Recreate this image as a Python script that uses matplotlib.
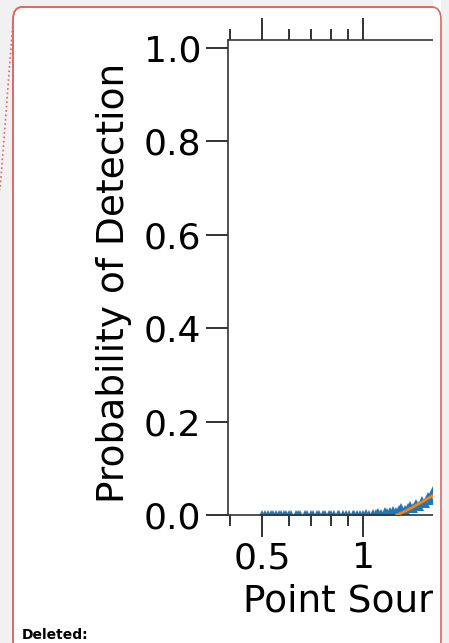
"""
Probability of detection vs point source flux, shown as the clipped
preview that sits inside a tracked-changes comment box.
"""

import matplotlib
matplotlib.use("Agg")
import matplotlib.pyplot as plt
from matplotlib.patches import FancyBboxPatch, Rectangle
from matplotlib.lines import Line2D
from matplotlib.ticker import FixedLocator, FixedFormatter

# ── Data ──────────────────────────────────────────────────────────────────────

# measured detection fraction (blue markers)
flux = [0.50, 0.51, 0.52, 0.53, 0.54, 0.55, 0.56, 0.57, 0.58, 0.59,
        0.60, 0.61, 0.63, 0.64, 0.65, 0.67, 0.68, 0.70, 0.71, 0.73,
        0.74, 0.76, 0.77, 0.79, 0.80, 0.82, 0.84, 0.85, 0.87, 0.89,
        0.91, 0.93, 0.94, 0.96, 0.98, 1.00, 1.02, 1.04, 1.07, 1.09,
        1.11, 1.13, 1.16, 1.18, 1.20, 1.23, 1.25, 1.28, 1.30, 1.33,
        1.36, 1.38, 1.41, 1.44, 1.47, 1.50, 1.53, 1.56, 1.59, 1.62, 1.66]
p_det = [0.000, 0.000, 0.000, 0.000, 0.000, 0.000, 0.000, 0.000, 0.000, 0.000,
         0.000, 0.000, 0.000, 0.000, 0.000, 0.000, 0.000, 0.000, 0.000, 0.000,
         0.000, 0.000, 0.000, 0.000, 0.001, 0.000, 0.000, 0.001, 0.000, 0.001,
         0.000, 0.001, 0.000, 0.001, 0.000, 0.001, 0.002, 0.001, 0.003, 0.002,
         0.004, 0.003, 0.006, 0.004, 0.007, 0.009, 0.006, 0.011, 0.014, 0.010,
         0.016, 0.020, 0.015, 0.024, 0.019, 0.030, 0.026, 0.038, 0.032, 0.052, 0.058]

# fitted curve (orange line)
fit_flux = [1.26, 1.30, 1.35, 1.40, 1.45, 1.50, 1.55, 1.60, 1.66]
fit_p = [0.000, 0.004, 0.010, 0.016, 0.022, 0.028, 0.034, 0.040, 0.047]

major_ticks = [0.5, 1, 2, 5, 10]
major_labels = ["0.5", "1", "2", "5", "10"]
minor_ticks = [0.4, 0.6, 0.7, 0.8, 0.9, 3, 4, 6, 7, 8, 9]

# ── Figure ────────────────────────────────────────────────────────────────────

W, H = 449, 643
BG = "#f1f1f1"
RED = "#e06666"
fig = plt.figure(figsize=(W / 100, H / 100), dpi=100)
fig.patch.set_facecolor(BG)

# comment box behind the chart
box = FancyBboxPatch((13 / W, -10 / H), 428 / W, (H - 7 + 10) / H,
                     boxstyle="round,pad=0,rounding_size=0.02",
                     transform=fig.transFigure, facecolor="white",
                     edgecolor=RED, linewidth=1.2, zorder=-5)
fig.patches.append(box)

# axes run off to the right; the box edge hides the rest
ax_left, ax_bottom, ax_top, ax_right = 228, 515, 40, 698
ax_w, ax_h = ax_right - ax_left, ax_bottom - ax_top
ax = fig.add_axes([ax_left / W, (H - ax_bottom) / H, ax_w / W, ax_h / H])

ax.plot(flux, p_det, linestyle="none", marker="^", markersize=7.5,
        color="#1f77b4", markeredgewidth=0, zorder=2)
ax.plot(fit_flux, fit_p, color="#ff7f0e", linewidth=2, zorder=3)

ax.set_xscale("log")
ax.set_xlim(0.395, 10)
ax.set_ylim(0, 1.017)

ax.xaxis.set_major_locator(FixedLocator(major_ticks))
ax.xaxis.set_major_formatter(FixedFormatter(major_labels))
ax.xaxis.set_minor_locator(FixedLocator(minor_ticks))
ax.xaxis.set_minor_formatter(FixedFormatter([]))
ax.set_yticks([0.0, 0.2, 0.4, 0.6, 0.8, 1.0])
ax.set_yticklabels(["0.0", "0.2", "0.4", "0.6", "0.8", "1.0"])

ax.tick_params(which="both", direction="out", top=True, right=False,
               labelsize=26, width=1.3, color="#222222", pad=3)
ax.tick_params(which="major", length=16)
ax.tick_params(which="minor", length=8)

for s in ax.spines.values():
    s.set_linewidth(1.2)
    s.set_color("#333333")

ax.set_ylabel("Probability of Detection", fontsize=27)
ax.yaxis.set_label_coords((132 - ax_left) / ax_w, (ax_bottom - 283) / ax_h)
ax.set_xlabel("Point Source Flux", fontsize=27, ha="left")
ax.xaxis.set_label_coords((243 - ax_left) / ax_w, -(583 - ax_bottom) / ax_h)

# white strip between clipped chart and the box edge, then the box edge again
fig.patches.append(Rectangle((433 / W, 0), 8 / W, 1, transform=fig.transFigure,
                             facecolor="white", edgecolor="none", zorder=10))
fig.patches.append(Rectangle((441 / W, 0), 8 / W, 1, transform=fig.transFigure,
                             facecolor=BG, edgecolor="none", zorder=10))
edge = FancyBboxPatch((13 / W, -10 / H), 428 / W, (H - 7 + 10) / H,
                      boxstyle="round,pad=0,rounding_size=0.02",
                      transform=fig.transFigure, facecolor="none",
                      edgecolor=RED, linewidth=1.2, zorder=11)
fig.patches.append(edge)

# dotted connector to the margin
fig.lines.append(Line2D([13 / W, 0], [(H - 22) / H, (H - 190) / H],
                        transform=fig.transFigure, color=RED,
                        linestyle=":", linewidth=1.2, zorder=11))

fig.text(22 / W, (H - 635) / H, "Deleted:", fontsize=10, fontweight="bold",
         va="center", ha="left")

fig.savefig("out.png", dpi=100, facecolor=fig.get_facecolor())
